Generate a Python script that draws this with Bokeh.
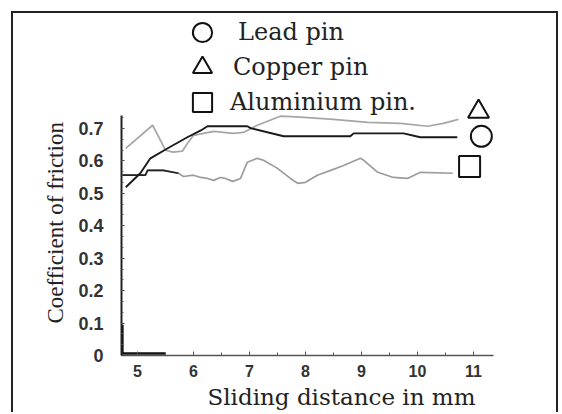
from bokeh.plotting import figure
from bokeh.models import Range1d, FixedTicker, Legend, LegendItem, Title
from bokeh.embed import file_html
from bokeh.resources import INLINE

# ---- data ----
copper_x = [4.79, 5.27, 5.50, 5.63, 5.80, 5.89, 6.00, 6.36, 6.71, 6.89, 7.14, 7.55,
            7.91, 8.50, 9.11, 9.70, 10.18, 10.46, 10.73]
copper_y = [0.639, 0.710, 0.633, 0.627, 0.630, 0.654, 0.679, 0.691, 0.685, 0.688,
            0.710, 0.738, 0.735, 0.728, 0.719, 0.716, 0.707, 0.716, 0.728]

lead_x = [4.79, 5.05, 5.23, 5.54, 5.89, 6.13, 6.25, 6.96, 7.02, 7.61, 8.80, 8.86,
          9.75, 10.05, 10.71]
lead_y = [0.519, 0.562, 0.608, 0.639, 0.673, 0.694, 0.707, 0.707, 0.701, 0.676,
          0.676, 0.685, 0.685, 0.673, 0.673]

alu_x = [4.73, 5.14, 5.18, 5.46, 5.73, 5.82, 6.00, 6.13, 6.25, 6.36, 6.48, 6.57,
         6.70, 6.84, 6.96, 7.14, 7.25, 7.50, 7.73, 7.86, 8.00, 8.21, 8.45, 8.68,
         8.98, 9.04, 9.29, 9.57, 9.82, 10.05, 10.63]
alu_y = [0.556, 0.556, 0.571, 0.571, 0.562, 0.552, 0.556, 0.549, 0.546, 0.540,
         0.549, 0.546, 0.537, 0.546, 0.596, 0.608, 0.602, 0.577, 0.546, 0.531,
         0.534, 0.556, 0.571, 0.586, 0.608, 0.602, 0.565, 0.549, 0.546, 0.565, 0.562]
alu_dark_count = 5  # first points drawn dark in the picture

start_x = [4.73, 4.73, 4.80, 5.50]
start_y = [0.095, 0.006, 0.006, 0.006]

end_labels = ["Lead pin", "Copper pin", "Aluminium pin."]
end_markers = ["circle", "triangle", "square"]
end_x = [11.14, 11.09, 10.93]
end_y = [0.676, 0.752, 0.583]

x_ticks = [5, 6, 7, 8, 9, 10, 11]
y_ticks = [0, 0.1, 0.2, 0.3, 0.4, 0.5, 0.6, 0.7]

x_title = "Sliding distance in mm"
y_title = "Coefficient of friction"

# ---- figure ----
page_styles = {
    "background-color": "white",
    "background-image": ("linear-gradient(#222222, #222222), "
                         "linear-gradient(#222222, #222222), "
                         "linear-gradient(#222222, #222222)"),
    "background-position": "11px 11px, 11px 11px, 556px 11px",
    "background-size": "2px 700px, 547px 2px, 2px 700px",
    "background-repeat": "no-repeat",
}

p = figure(width=560, height=412, output_backend="svg", toolbar_location=None,
           x_range=Range1d(4.714, 11.357), y_range=Range1d(0, 1.0947),
           min_border_left=121, min_border_right=67, min_border_top=0,
           min_border_bottom=57, background_fill_color=None,
           border_fill_color=None, styles=page_styles)
p.grid.visible = False
p.outline_line_color = None

p.line(copper_x, copper_y, line_color="#a6a6a6", line_width=1.7)
p.line(alu_x, alu_y, line_color="#9c9c9c", line_width=1.7)
p.line(alu_x[:alu_dark_count], alu_y[:alu_dark_count], line_color="#222222", line_width=1.7)
p.line(lead_x, lead_y, line_color="#1a1a1a", line_width=1.9)
p.line(start_x, start_y, line_color="#111111", line_width=2.5)

legend_offsets = [(57, 299, 12), (57, 264, 7), (57, 229, 4)]
for lab, m, xx, yy, (lx, ly, ls) in zip(end_labels, end_markers, end_x, end_y,
                                       legend_offsets):
    r = p.scatter([xx], [yy], marker=m, size=21, fill_color=None,
                  line_color="#111111", line_width=2)
    lg = Legend(items=[LegendItem(label=lab, renderers=[r])], location=(lx, ly),
                glyph_width=48, glyph_height=48, padding=0, margin=0,
                label_standoff=ls, background_fill_alpha=0, border_line_color=None,
                label_text_font="DejaVu Serif", label_text_font_size="24px",
                label_text_color="#222222", label_text_baseline="middle")
    p.add_layout(lg)

# axes
xa = p.xaxis[0]
xa.ticker = FixedTicker(ticks=x_ticks, minor_ticks=[t + 0.5 for t in x_ticks])
xa.major_label_text_font = "Liberation Sans"
xa.major_label_text_font_style = "bold"
xa.major_label_text_font_size = "16px"
xa.major_label_text_color = "#333333"
xa.major_label_standoff = 9
xa.major_tick_in = 4
xa.major_tick_out = 0
xa.minor_tick_in = 3
xa.minor_tick_out = 0
xa.axis_line_color = "#555555"
xa.axis_line_width = 1.5
xa.major_tick_line_color = "#555555"
xa.minor_tick_line_color = "#555555"

ya = p.yaxis[0]
ya.ticker = FixedTicker(ticks=y_ticks,
                        minor_ticks=[round(i / 30, 4) for i in range(0, 23)])
ya.bounds = (0, 0.74)
ya.major_label_overrides = {0: "0"}
ya.major_label_text_font = "Liberation Sans"
ya.major_label_text_font_style = "bold"
ya.major_label_text_font_size = "18px"
ya.major_label_text_color = "#333333"
ya.major_label_standoff = 18
ya.major_tick_in = 3
ya.major_tick_out = 0
ya.minor_tick_in = 2
ya.minor_tick_out = 0
ya.axis_line_color = "#222222"
ya.axis_line_width = 2
ya.major_tick_line_color = "#333333"
ya.minor_tick_line_color = "#555555"

# axis titles (placed as side-panel titles so they can sit off-centre like the picture)
xt = Title(text=x_title, align="left", offset=86, standoff=4,
           text_font="DejaVu Serif", text_font_size="23px",
           text_font_style="normal", text_color="#222222")
p.add_layout(xt, "below")
yt = Title(text=y_title, align="left", offset=32, standoff=16,
           text_font="Liberation Serif", text_font_size="23px",
           text_font_style="normal", text_color="#222222")
p.add_layout(yt, "left")

open("out.html", "w").write(file_html(p, INLINE))
